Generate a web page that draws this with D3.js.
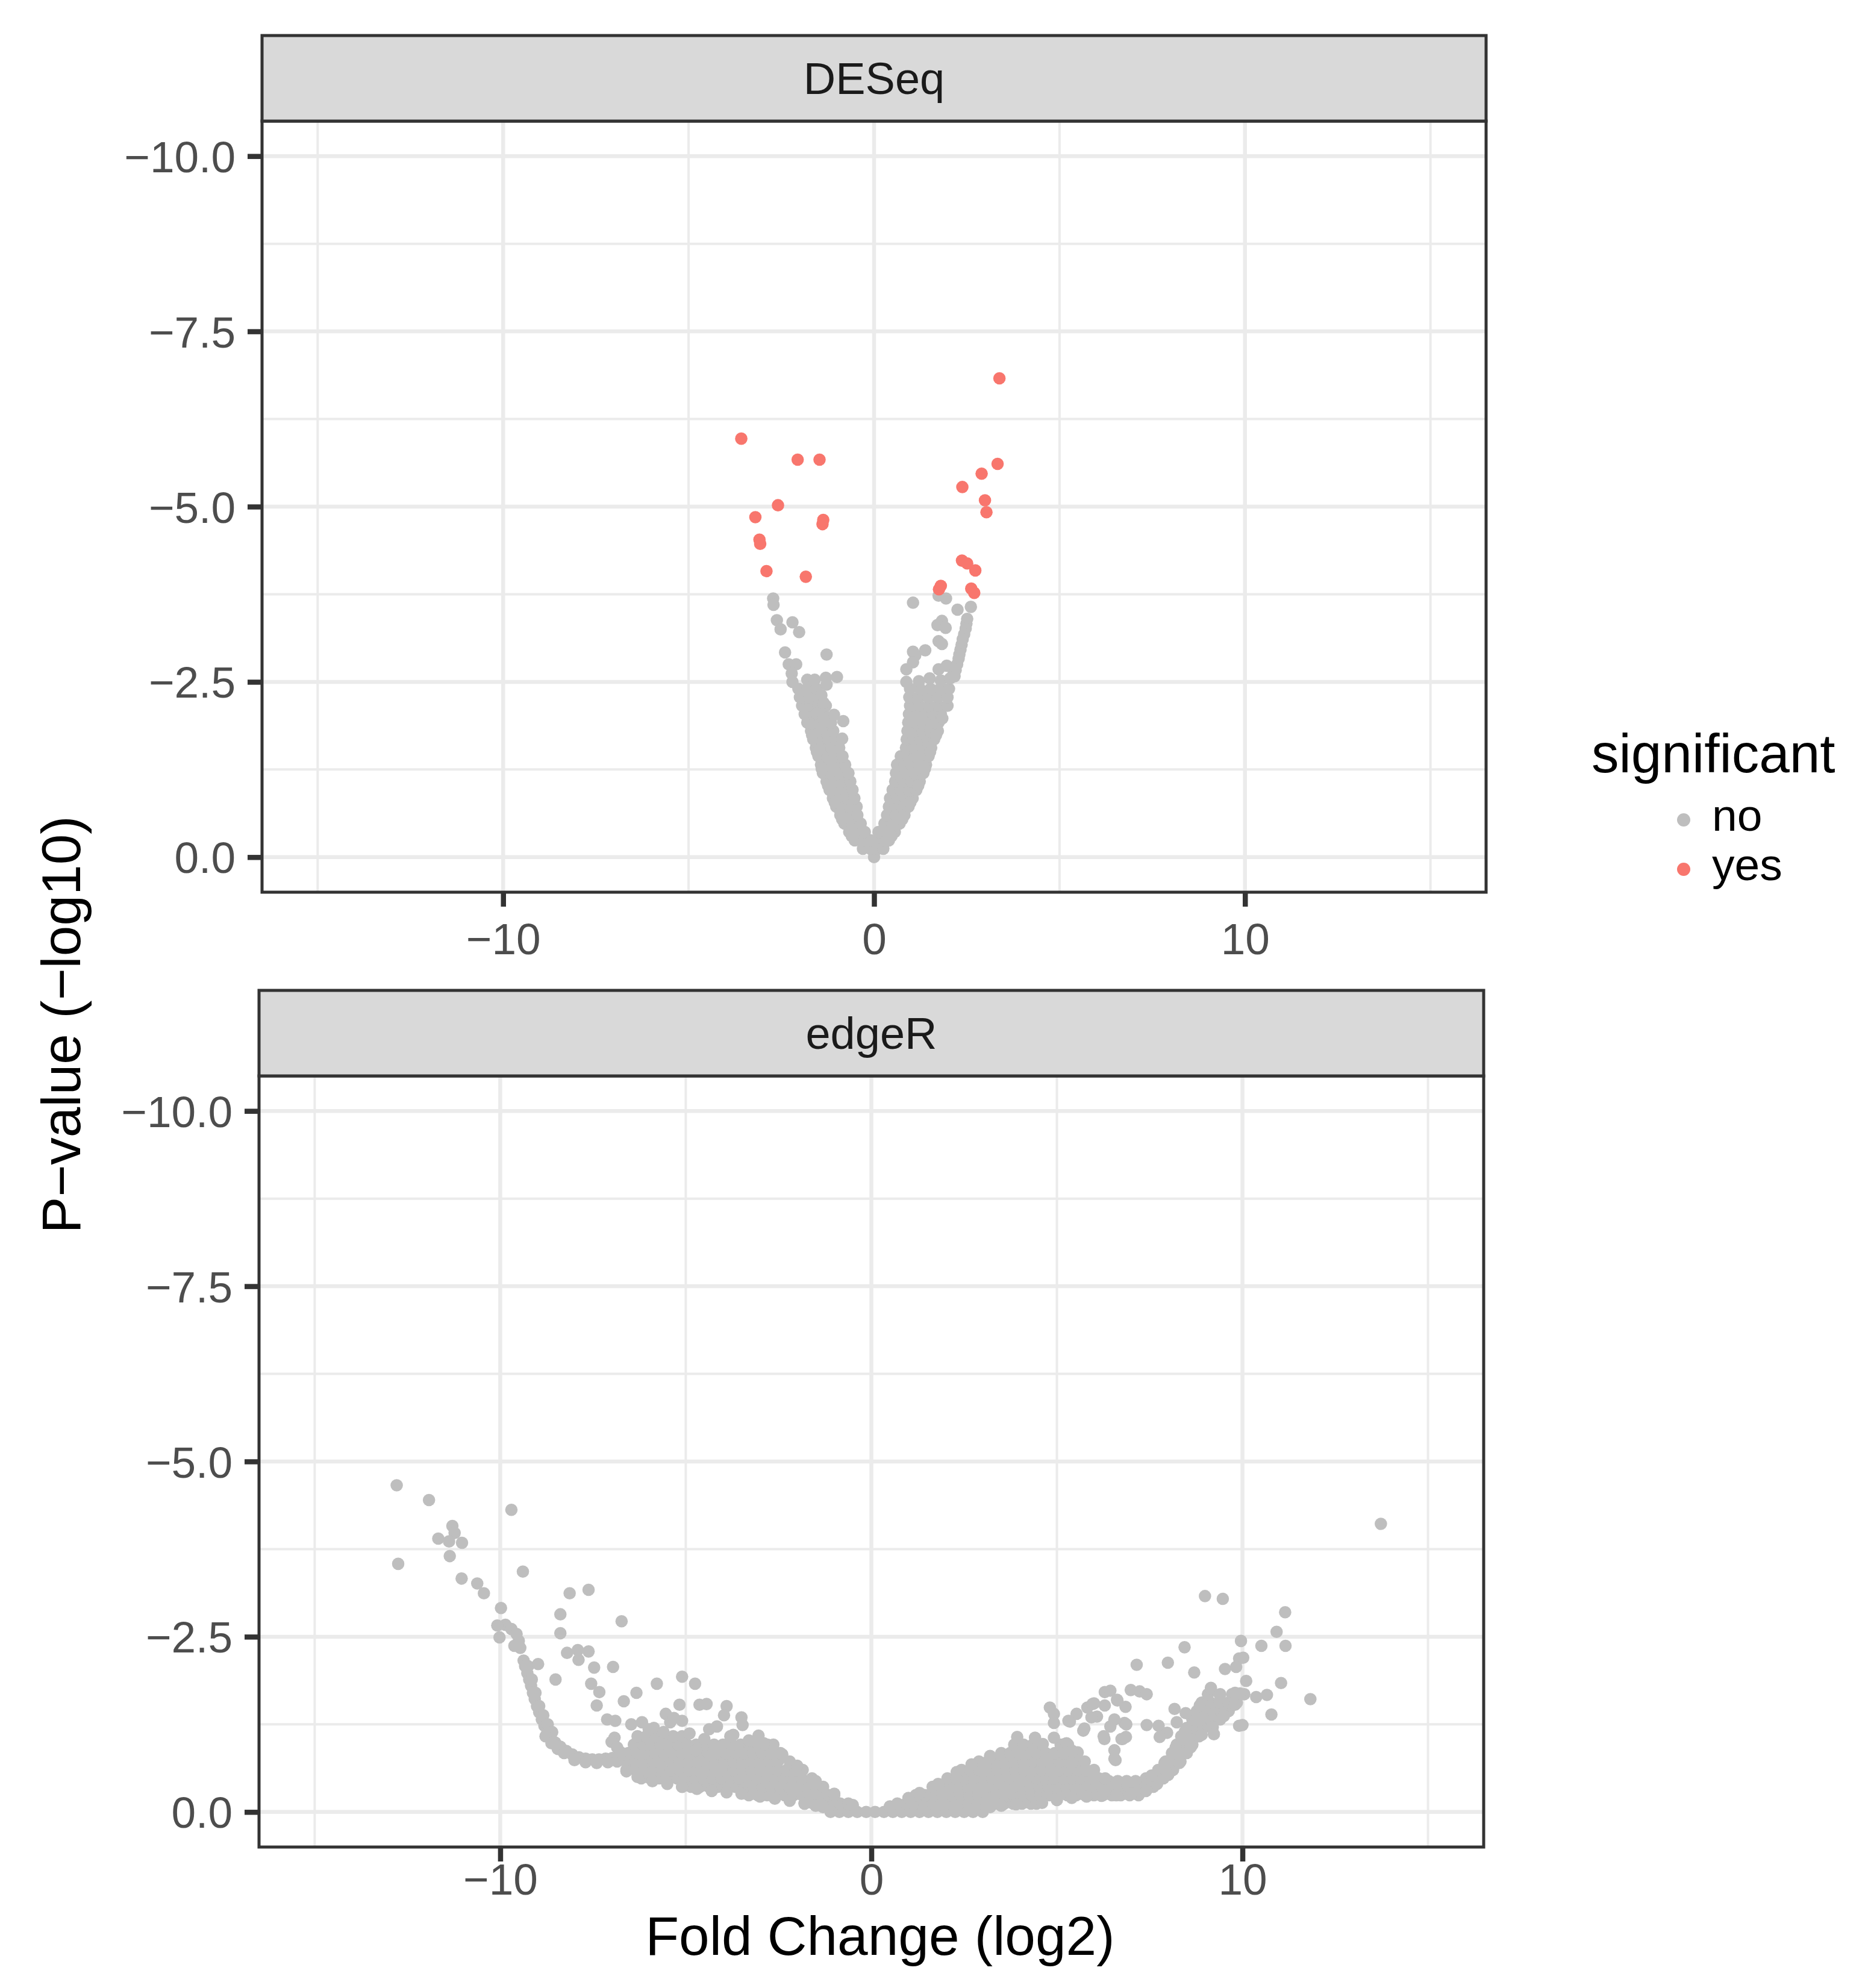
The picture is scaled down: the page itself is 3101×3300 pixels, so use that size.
<!DOCTYPE html>
<html><head><meta charset="utf-8">
<script src="https://cdn.jsdelivr.net/npm/d3@7"></script>
<style>html,body{margin:0;padding:0;background:#fff;}svg{display:block;}</style>
</head><body>
<svg id="chart" width="3101" height="3300"></svg>
<script>
// ---------- data ----------
const facetNames = ["DESeq", "edgeR"];
const xLimits = [-15, 15];
const yLimits = [-10, 0];
const xTicks = [-10, 0, 10];
const xMinorTicks = [-15, -5, 5, 15];
const yTicks = [-10, -7.5, -5, -2.5, 0];
const yMinorTicks = [-8.75, -6.25, -3.75, -1.25];
const xTitle = "Fold Change (log2)";
const yTitle = "P\u2212value (\u2212log10)";
const legendTitle = "significant";
const legendLevels = ["no", "yes"];
const levelColors = ["#BEBEBE", "#F8766D"];

// DESeq significant points [x, y]
const deseqYes = [
 [3.38,-6.83],[-3.58,-5.97],[-2.06,-5.67],[-1.47,-5.67],[3.33,-5.61],[2.90,-5.47],[2.38,-5.28],
 [-2.59,-5.02],[2.99,-5.09],[3.03,-4.92],[-3.20,-4.85],[-1.39,-4.75],[-1.37,-4.81],[-3.09,-4.53],
 [-3.07,-4.47],[-2.90,-4.08],[-1.84,-4.00],[2.37,-4.23],[2.51,-4.19],[2.73,-4.09],[1.80,-3.87],
 [1.75,-3.82],[2.62,-3.83],[2.70,-3.77]
];
// DESeq non-significant, scattered points [x, y]
const deseqNoSparse = [
 [-2.72,-3.69],[-2.71,-3.60],[-2.62,-3.38],[-2.52,-3.25],[-2.20,-3.35],[-2.02,-3.21],[-2.40,-2.92],
 [-1.28,-2.89],[-2.30,-2.75],[-2.10,-2.75],[-2.22,-2.62],[-2.20,-2.50],[-1.80,-2.53],[-1.60,-2.53],
 [-1.30,-2.56],[-1.28,-2.46],[-1.00,-2.57],[-1.42,-2.31],[-1.36,-2.20],[-1.08,-2.03],[-0.83,-1.94],
 [-1.54,-2.05],[-1.36,-1.97],[-0.86,-1.69],
 [1.05,-3.63],[1.74,-3.73],[1.94,-3.69],[2.25,-3.53],[2.61,-3.57],[1.83,-3.37],[1.71,-3.31],
 [1.93,-3.27],[1.74,-3.08],[1.83,-3.04],[1.05,-2.93],[1.38,-2.95],[1.11,-2.88],[1.05,-2.78],
 [0.87,-2.68],[1.74,-2.68],[1.96,-2.73],[2.14,-2.61],[0.87,-2.50],[1.21,-2.51],[1.50,-2.55],
 [1.80,-2.52],[2.05,-2.55],
 [2.51,-3.40],[2.49,-3.33],[2.47,-3.26],[2.43,-3.18],[2.39,-3.11],[2.36,-3.03],[2.33,-2.96],
 [2.30,-2.89],[2.28,-2.83],[2.24,-2.75],[2.20,-2.67],[2.17,-2.58]
];
// DESeq non-significant, points along the outer edges of the V [x, y]
const deseqNoEdge = [
 [-0.60,-0.30],[-0.86,-0.54],[-1.06,-0.78],[-1.24,-1.02],[-1.41,-1.26],[-1.54,-1.50],[-1.67,-1.74],
 [0.47,-0.30],[0.76,-0.54],[0.98,-0.78],[1.19,-1.02],[1.37,-1.26],[1.51,-1.50],[1.67,-1.74],[1.84,-1.98]
];
// DESeq non-significant, dense cloud read row by row: [y, [x ...]]
const deseqNoRows = [
 [0.00,[0.00]],
 [-0.12,[-0.30,-0.10,0.10,0.25]],
 [-0.24,[-0.52,-0.31,-0.10,0.10,0.27,0.40]],
 [-0.36,[-0.67,-0.46,-0.25,0.12,0.34,0.56]],
 [-0.48,[-0.80,-0.58,-0.36,0.28,0.49,0.69]],
 [-0.60,[-0.91,-0.68,-0.45,0.35,0.58,0.82]],
 [-0.72,[-1.02,-0.84,-0.66,-0.47,0.40,0.58,0.76,0.93]],
 [-0.84,[-1.11,-0.92,-0.72,-0.53,0.43,0.63,0.84,1.04]],
 [-0.96,[-1.20,-0.99,-0.79,-0.58,0.50,0.71,0.93,1.14]],
 [-1.08,[-1.28,-1.07,-0.86,-0.64,0.57,0.79,1.01,1.23]],
 [-1.20,[-1.38,-1.15,-0.92,-0.69,0.59,0.84,1.09,1.33]],
 [-1.32,[-1.43,-1.21,-1.00,-0.78,0.62,0.82,1.01,1.21,1.40]],
 [-1.44,[-1.50,-1.28,-1.06,-0.85,0.72,0.91,1.10,1.29,1.47]],
 [-1.56,[-1.57,-1.36,-1.15,-0.94,0.86,1.09,1.32,1.54]],
 [-1.68,[-1.64,-1.44,-1.23,-1.03,0.88,1.06,1.25,1.44,1.62]],
 [-1.80,[-1.70,-1.50,-1.30,-1.10,0.90,1.11,1.31,1.52,1.72]],
 [-1.92,[-1.80,-1.59,-1.38,-1.16,0.92,1.13,1.33,1.54,1.74]],
 [-2.04,[-1.87,-1.62,-1.36,0.94,1.16,1.37,1.59,1.80]],
 [-2.16,[-1.94,-1.72,-1.50,-1.30,0.97,1.22,1.48,1.73,1.98]],
 [-2.28,[-2.00,-1.75,-1.50,0.95,1.20,1.46,1.72,1.98]],
 [-2.40,[-2.04,-1.80,-1.55,0.97,1.24,1.52,1.78,2.02]]
];

// edgeR non-significant, scattered points [x, y]
const edgerNoSparse = [
 [-12.79,-4.66],[-11.92,-4.45],[-9.70,-4.31],[-11.29,-4.08],[-11.23,-3.98],[-11.67,-3.90],[-11.38,-3.86],
 [-11.03,-3.84],[-12.75,-3.54],[-11.36,-3.65],[-9.39,-3.43],[-11.04,-3.33],[-10.62,-3.26],[-10.44,-3.12],
 [-8.13,-3.12],[-7.62,-3.17],[-9.98,-2.91],[-8.38,-2.82],[-6.73,-2.72],[-10.08,-2.66],[-10.02,-2.49],
 [-8.38,-2.55],[-8.98,-2.11],[-8.51,-1.89],[-8.20,-2.27],[-7.91,-2.31],[-7.62,-2.29],[-7.89,-2.17],
 [-7.47,-2.06],[-6.96,-2.07],[-7.55,-1.83],[-7.33,-1.71],[-7.40,-1.52],[-6.67,-1.58],[-6.33,-1.70],
 [-5.78,-1.83],[-5.10,-1.93],[-4.75,-1.83],[-5.17,-1.53],[-4.63,-1.53],[-4.44,-1.54],[-3.90,-1.51],
 [-3.97,-1.38],[-3.50,-1.35],[-3.47,-1.24],[-5.54,-1.40],[-5.42,-1.28],[-5.10,-1.30],[-5.32,-1.34],
 [-7.12,-1.32],[-6.90,-1.30],[-6.47,-1.25],[-6.18,-1.28],[-5.86,-1.20],[-4.37,-1.18],[-4.16,-1.22],
 [-3.04,-1.09],[-3.72,-1.10],[-4.73,-0.88],[-2.64,-0.96],[-6.92,-1.06],[-7.00,-1.00],[-6.85,-0.92],
 [-6.75,-0.85],
 [13.73,-4.11],[8.99,-3.08],[9.47,-3.04],[11.15,-2.85],[10.92,-2.57],[9.96,-2.44],[10.51,-2.37],
 [11.16,-2.37],[8.44,-2.35],[7.99,-2.13],[7.15,-2.10],[8.70,-1.99],[9.53,-2.04],[9.83,-2.07],
 [9.91,-2.19],[10.02,-2.20],[10.10,-1.87],[11.04,-1.84],[10.66,-1.67],[11.83,-1.61],[10.78,-1.39],
 [10.37,-1.64],[9.80,-1.70],[9.93,-1.69],[9.91,-1.23],[10.00,-1.24],[9.15,-1.77],[9.39,-1.67],
 [8.17,-1.47],[8.47,-1.41],[8.23,-1.28],[6.99,-1.74],[7.23,-1.72],[7.42,-1.68],[7.42,-1.24],
 [7.74,-1.23],[7.97,-1.13],[7.77,-1.07],[9.23,-1.11],[6.63,-1.59],[6.85,-1.50],[6.82,-1.27],
 [6.74,-1.04],[6.58,-0.74],[6.29,-1.71],[6.44,-1.73],[6.62,-1.60],[6.29,-1.52],[6.00,-1.55],
 [5.82,-1.49],[5.53,-1.40],[5.35,-1.29],[4.81,-1.49],[4.92,-1.40],[4.92,-1.27],[6.55,-1.32],
 [6.87,-1.25],[6.44,-1.22],[6.77,-1.04],[6.86,-1.07],[6.55,-0.76],[5.71,-1.16],[6.08,-1.36],
 [6.26,-1.08],[4.41,-1.06],[4.62,-0.97],[4.92,-1.06],[5.21,-0.97],[5.56,-0.85],[5.39,-0.70],
 [5.96,-1.54],[5.31,-1.30],[5.74,-1.19],[5.93,-1.35],[6.28,-1.04],[6.55,-0.88],[3.93,-1.07],
 [5.26,-0.98],[5.42,-0.87],
 [-6.00,-1.18],[-5.60,-1.14],[-4.90,-1.12],[-4.50,-1.04],[-3.80,-1.08],[-3.30,-1.02],[-2.90,-0.98]
];
// edgeR non-significant, points along the edges of the dense cloud [x, y]
const edgerNoEdge = [
 [-6.6,-0.58],[-6.3,-0.50],[-5.9,-0.44],[-5.5,-0.40],[-5.1,-0.36],[-4.7,-0.33],[-4.3,-0.30],[-3.9,-0.28],
 [-3.5,-0.26],[-3.0,-0.22],[-2.6,-0.19],[-2.2,-0.16],[-1.8,-0.12],[-1.5,-0.09],[-1.3,-0.07],
 [3.2,-0.07],[3.5,-0.09],[3.9,-0.11],[4.6,-0.13],[5.0,-0.17],[5.4,-0.20],[5.8,-0.22],[6.2,-0.23],
 [6.6,-0.24],[7.0,-0.26],[7.4,-0.30],[7.7,-0.40],[8.0,-0.53],[8.3,-0.70],[8.6,-0.92],[8.9,-1.10],
 [9.2,-1.21],[9.5,-1.37],[9.8,-1.53],
 [-0.5,-0.10],[-1.0,-0.26],[-1.5,-0.44],[-2.0,-0.66],[-2.4,-0.82],
 [0.5,-0.08],[1.0,-0.20],[1.3,-0.27],[1.8,-0.40],[2.3,-0.57],[2.7,-0.68],[3.2,-0.80],
 [7.55,-0.52],[7.9,-0.70],[8.2,-0.92],[8.45,-1.15],[8.7,-1.38],[8.85,-1.52]
];
// edgeR non-significant, left "hockey stick" band [x, y]
const edgerNoBand = [
 [-9.86,-2.67],[-9.70,-2.61],[-9.56,-2.54],[-9.50,-2.44],[-9.46,-2.34],[-9.62,-2.37],[-9.37,-2.16],
 [-9.33,-2.08],[-9.27,-1.98],[-9.22,-1.89],[-9.17,-1.80],[-9.12,-1.70],[-9.07,-1.61],[-9.01,-1.51],
 [-8.95,-1.42],[-8.88,-1.32],[-8.81,-1.23],[-8.73,-1.14],[-8.64,-1.06],[-8.52,-0.99],[-8.38,-0.93],
 [-8.22,-0.87],[-8.06,-0.82],[-7.88,-0.78],[-7.70,-0.76],[-7.52,-0.75],[-7.34,-0.75],[-7.16,-0.76],
 [-6.98,-0.77],[-6.80,-0.78],
 [-9.25,-2.08],[-9.15,-1.89],[-9.05,-1.70],[-8.95,-1.51],[-8.84,-1.38],[-8.72,-1.25],[-8.60,-1.14],
 [-8.78,-1.08],[-8.62,-0.98],[-8.45,-0.90],[-8.28,-0.84],[-8.00,-0.74],[-7.70,-0.71],[-7.40,-0.70],
 [-7.10,-0.71],[-6.85,-0.72]
];
// edgeR non-significant, dense cloud read row by row: [y, [x ...]]
const edgerNoRows = [
 [0.00,[-1.10,-0.86,-0.62,-0.38,-0.14,0.10,0.34,0.58,0.82,1.06,1.30,1.54,1.78,2.02,2.26,2.50,2.74,3.00]],
 [-0.12,[-1.80,-1.56,-1.32,-1.08,-0.84,-0.62,0.70,0.94,1.18,1.42,1.66,1.90,2.14,2.38,2.62,2.86,3.10,3.34,3.58,3.82,4.06,4.30,4.45]],
 [-0.24,[-3.30,-3.06,-2.82,-2.58,-2.34,-2.10,-1.86,-1.62,-1.38,-1.14,-1.00,1.20,1.44,1.68,1.92,2.16,2.40,2.64,2.88,3.12,3.36,3.60,3.84,4.08,4.32,4.56,4.80,5.04,5.28,5.52,5.76,6.00,6.24,6.48,6.72,6.96,7.20]],
 [-0.36,[-5.10,-4.86,-4.62,-4.38,-4.14,-3.90,-3.66,-3.42,-3.18,-2.94,-2.70,-2.46,-2.22,-1.98,-1.74,-1.50,-1.30,1.65,1.89,2.13,2.37,2.61,2.85,3.09,3.33,3.57,3.81,4.05,4.29,4.53,4.77,5.01,5.25,5.49,5.73,5.97,6.21,6.45,6.69,6.93,7.17,7.41,7.60]],
 [-0.44,[6.40,6.64,6.88,7.12,7.36]],
 [-0.48,[-6.20,-5.96,-5.72,-5.48,-5.24,-5.00,-4.76,-4.52,-4.28,-4.04,-3.80,-3.56,-3.32,-3.08,-2.84,-2.60,-2.36,-2.12,-1.88,-1.60,2.05,2.29,2.53,2.77,3.01,3.25,3.49,3.73,3.97,4.21,4.45,4.69,4.93,5.17,5.41,5.65,5.89,6.13,6.30,7.40,7.64,7.87]],
 [-0.60,[-6.60,-6.36,-6.12,-5.88,-5.64,-5.40,-5.16,-4.92,-4.68,-4.44,-4.20,-3.96,-3.72,-3.48,-3.24,-3.00,-2.76,-2.52,-2.28,-2.04,-1.85,2.43,2.67,2.91,3.15,3.39,3.63,3.87,4.11,4.35,4.59,4.83,5.07,5.31,5.55,5.79,6.00,7.73,7.93,8.13]],
 [-0.72,[-6.60,-6.36,-6.12,-5.88,-5.64,-5.40,-5.16,-4.92,-4.68,-4.44,-4.20,-3.96,-3.72,-3.48,-3.24,-3.00,-2.76,-2.52,-2.20,2.90,3.14,3.38,3.62,3.86,4.10,4.34,4.58,4.82,5.06,5.30,5.54,5.75,7.93,8.13,8.33]],
 [-0.84,[-6.55,-6.31,-6.07,-5.83,-5.59,-5.35,-5.11,-4.87,-4.63,-4.39,-4.15,-3.91,-3.67,-3.43,-3.19,-2.95,-2.71,-2.45,3.50,3.74,3.98,4.22,4.46,4.70,4.94,5.18,5.45,8.10,8.30,8.50]],
 [-0.96,[-6.40,-6.16,-5.92,-5.68,-5.44,-5.20,-4.96,-4.72,-4.48,-4.24,-4.00,-3.76,-3.52,-3.28,-3.04,-2.80,3.85,4.10,4.35,5.10,5.30,8.23,8.44,8.65]],
 [-1.08,[-6.30,-6.06,-5.82,-5.58,-5.34,-5.10,8.35,8.59,8.83]],
 [-1.20,[8.50,8.72,8.94,9.17]],
 [-1.32,[8.65,8.90,9.15,9.40]],
 [-1.44,[8.77,8.99,9.21,9.42,9.63]],
 [-1.56,[8.90,9.14,9.38,9.62,9.85]],
 [-1.68,[9.07,9.40,9.72,10.05]]
];

// ---------- build ----------
const rowsToPoints = rows => rows.flatMap(([y, xs]) => xs.map(x => ({x, y})));
const pairsToPoints = arr => arr.map(([x, y]) => ({x, y}));

const facetData = [
  { no: rowsToPoints(deseqNoRows).concat(pairsToPoints(deseqNoEdge), pairsToPoints(deseqNoSparse)),
    yes: pairsToPoints(deseqYes) },
  { no: rowsToPoints(edgerNoRows).concat(pairsToPoints(edgerNoEdge), pairsToPoints(edgerNoBand), pairsToPoints(edgerNoSparse)),
    yes: [] }
];

const FONT = "'Liberation Sans', Arial, Helvetica, sans-serif";
const svg = d3.select("#chart");
svg.append("rect").attr("width", 3101).attr("height", 3300).attr("fill", "#fff");

const layout = [
  { left: 435, right: 2467, stripTop: 59, top: 201, bottom: 1481, xLabBase: 1584 },
  { left: 430, right: 2463, stripTop: 1644, top: 1786, bottom: 3066, xLabBase: 3145 }
];
const xExp = (xLimits[1] - xLimits[0]) * 0.05;
const yExp = (yLimits[1] - yLimits[0]) * 0.05;
const xDomain = [xLimits[0] - xExp, xLimits[1] + xExp];
const yDomain = [yLimits[0] - yExp, yLimits[1] + yExp];

const R = 10.3;

facetNames.forEach((name, i) => {
  const L = layout[i];
  const x = d3.scaleLinear().domain(xDomain).range([L.left, L.right]);
  const y = d3.scaleLinear().domain(yDomain).range([L.top, L.bottom]);
  const g = svg.append("g");

  g.append("rect").attr("x", L.left).attr("y", L.top)
    .attr("width", L.right - L.left).attr("height", L.bottom - L.top).attr("fill", "#fff");

  const grid = g.append("g").attr("stroke", "#EBEBEB");
  grid.selectAll(".vmin").data(xMinorTicks).join("line").attr("class","vmin")
    .attr("x1", d => x(d)).attr("x2", d => x(d)).attr("y1", L.top).attr("y2", L.bottom).attr("stroke-width", 4);
  grid.selectAll(".hmin").data(yMinorTicks).join("line").attr("class","hmin")
    .attr("y1", d => y(d)).attr("y2", d => y(d)).attr("x1", L.left).attr("x2", L.right).attr("stroke-width", 4);
  grid.selectAll(".vmaj").data(xTicks).join("line").attr("class","vmaj")
    .attr("x1", d => x(d)).attr("x2", d => x(d)).attr("y1", L.top).attr("y2", L.bottom).attr("stroke-width", 6.5);
  grid.selectAll(".hmaj").data(yTicks).join("line").attr("class","hmaj")
    .attr("y1", d => y(d)).attr("y2", d => y(d)).attr("x1", L.left).attr("x2", L.right).attr("stroke-width", 6.5);

  const clipId = "clip" + i;
  svg.append("clipPath").attr("id", clipId).append("rect")
    .attr("x", L.left).attr("y", L.top).attr("width", L.right - L.left).attr("height", L.bottom - L.top);
  const pts = g.append("g").attr("clip-path", `url(#${clipId})`);
  pts.selectAll(".no").data(facetData[i].no).join("circle").attr("class", "no")
    .attr("cx", d => x(d.x)).attr("cy", d => y(d.y)).attr("r", R).attr("fill", levelColors[0]);
  pts.selectAll(".yes").data(facetData[i].yes).join("circle").attr("class", "yes")
    .attr("cx", d => x(d.x)).attr("cy", d => y(d.y)).attr("r", R).attr("fill", levelColors[1]);

  g.append("rect").attr("x", L.left).attr("y", L.top)
    .attr("width", L.right - L.left).attr("height", L.bottom - L.top)
    .attr("fill", "none").attr("stroke", "#333333").attr("stroke-width", 5);

  g.append("rect").attr("x", L.left).attr("y", L.stripTop)
    .attr("width", L.right - L.left).attr("height", L.top - L.stripTop)
    .attr("fill", "#D9D9D9").attr("stroke", "#333333").attr("stroke-width", 5);
  g.append("text").attr("x", (L.left + L.right) / 2).attr("y", (L.stripTop + L.top) / 2 + 26)
    .attr("text-anchor", "middle").attr("font-family", FONT).attr("font-size", 74)
    .attr("fill", "#1A1A1A").text(name);

  const ya = g.append("g").attr("transform", `translate(${L.left},0)`)
    .call(d3.axisLeft(y).tickValues(yTicks).tickFormat(d3.format(".1f")).tickSize(24).tickPadding(20));
  ya.select(".domain").remove();
  ya.selectAll(".tick line").attr("stroke", "#333333").attr("stroke-width", 8.5);
  ya.selectAll(".tick text").attr("font-family", FONT).attr("font-size", 73).attr("fill", "#4D4D4D")
    .attr("dy", null).attr("transform", "translate(0,26)");

  const xa = g.append("g").attr("transform", `translate(0,${L.bottom})`)
    .call(d3.axisBottom(x).tickValues(xTicks).tickFormat(d3.format("d")).tickSize(24).tickPadding(0));
  xa.select(".domain").remove();
  xa.selectAll(".tick line").attr("stroke", "#333333").attr("stroke-width", 8.5);
  xa.selectAll(".tick text").attr("font-family", FONT).attr("font-size", 73).attr("fill", "#4D4D4D")
    .attr("dy", null).attr("y", L.xLabBase - L.bottom);
});

// axis titles
svg.append("text").attr("x", 1461).attr("y", 3245).attr("text-anchor", "middle")
  .attr("font-family", FONT).attr("font-size", 91).attr("fill", "#000").text(xTitle);
svg.append("text").attr("transform", "translate(133,1701) rotate(-90)").attr("text-anchor", "middle")
  .attr("font-family", FONT).attr("font-size", 91).attr("fill", "#000").text(yTitle);

// legend
const lg = svg.append("g");
lg.append("text").attr("x", 2642).attr("y", 1282).attr("font-family", FONT).attr("font-size", 91)
  .attr("fill", "#000").text(legendTitle);
const keyY = [1361, 1443];
legendLevels.forEach((lev, k) => {
  lg.append("circle").attr("cx", 2795).attr("cy", keyY[k]).attr("r", 11).attr("fill", levelColors[k]);
  lg.append("text").attr("x", 2842).attr("y", keyY[k] + 18).attr("font-family", FONT)
    .attr("font-size", 75).attr("fill", "#000").text(lev);
});
</script>
</body></html>
